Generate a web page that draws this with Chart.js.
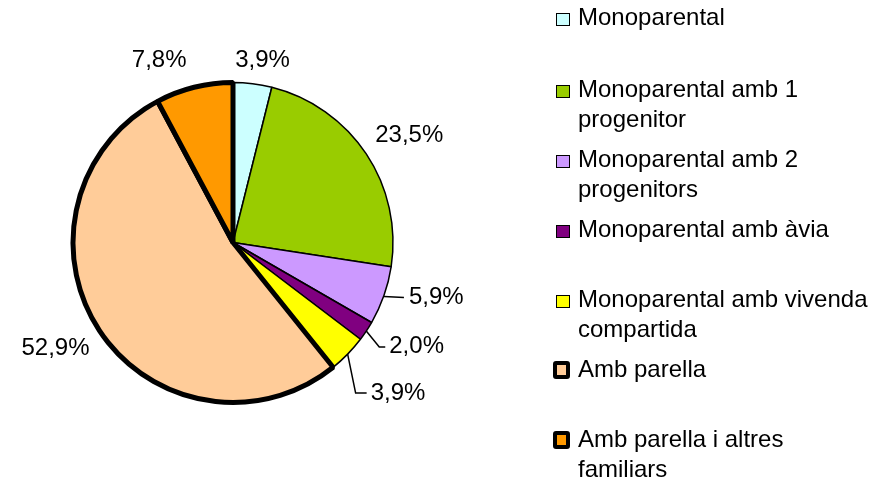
<!DOCTYPE html>
<html>
<head>
<meta charset="utf-8">
<script src="https://cdn.jsdelivr.net/npm/chart.js@4.4.1/dist/chart.umd.min.js"></script>
<style>
  html, body { margin: 0; padding: 0; background: #fff; }
  #wrap { position: relative; width: 890px; height: 482px; overflow: hidden; }
  #pie { position: absolute; left: 0; top: 0; }
  .item { position: absolute; left: 578px; font: 24px "Liberation Sans", Arial, sans-serif; line-height: 30px; color: #000; white-space: nowrap; }
  .box { position: absolute; box-sizing: border-box; }
</style>
</head>
<body>
<div id="wrap">
  <canvas id="pie" width="890" height="482"></canvas>
</div>
<script>
// DATA
const categories = [
  ["Monoparental"],
  ["Monoparental amb 1", "progenitor"],
  ["Monoparental amb 2", "progenitors"],
  ["Monoparental amb àvia"],
  ["Monoparental amb vivenda", "compartida"],
  ["Amb parella"],
  ["Amb parella i altres", "familiars"]
];
const values = [3.9, 23.5, 5.9, 2.0, 3.9, 52.9, 7.8];
const valueLabels = ["3,9%", "23,5%", "5,9%", "2,0%", "3,9%", "52,9%", "7,8%"];

// STYLE
const colors = ["#CCFFFF", "#99CC00", "#CC99FF", "#800080", "#FFFF00", "#FFCC99", "#FF9900"];
const borders = [1.5, 1.5, 1.5, 1.5, 1.5, 5, 5];
const legendTops = [2, 74, 144, 214, 284, 354, 424];

// label placement relative to the outer edge point of each slice
const labelLayout = [
  { dx: 10, dy: -23, align: "center" },
  { dx: 43, dy: -19, align: "center" },
  { dx: 25, dy: 2, align: "left", leader: [[0, 1], [20, 2]] },
  { dx: 23, dy: 15, align: "left", leader: [[0, 0], [13, 16], [19, 16]] },
  { dx: 23, dy: 39, align: "left", leader: [[0, 0], [8, 39], [19, 39]] },
  { dx: -44, dy: 18, align: "center" },
  { dx: -35, dy: -27, align: "center" }
];

// LEGEND
const wrap = document.getElementById("wrap");
categories.forEach((lines, i) => {
  const item = document.createElement("div");
  item.className = "item";
  item.style.top = legendTops[i] + "px";
  item.innerHTML = lines.join("<br>");
  wrap.appendChild(item);

  const box = document.createElement("div");
  box.className = "box";
  if (borders[i] > 2) {
    box.style.left = "553px";
    box.style.top = (legendTops[i] + 7) + "px";
    box.style.width = "17px";
    box.style.height = "18px";
    box.style.border = "4.5px solid #000";
    box.style.borderRadius = "3px";
  } else {
    box.style.left = "556px";
    box.style.top = (legendTops[i] + 10.5) + "px";
    box.style.width = "14px";
    box.style.height = "13px";
    box.style.border = "1.5px solid #000";
  }
  box.style.background = colors[i];
  wrap.appendChild(box);
});

// PIE LABELS
const pieLabels = {
  id: "pieLabels",
  afterDatasetsDraw(chart) {
    const c = chart.ctx;
    const arcs = chart.getDatasetMeta(0).data;
    c.save();
    c.font = '24px "Liberation Sans", Arial, sans-serif';
    c.fillStyle = "#000";
    c.textBaseline = "middle";
    arcs.forEach((arc, i) => {
      const p = arc.getProps(["x", "y", "startAngle", "endAngle", "outerRadius"]);
      const mid = (p.startAngle + p.endAngle) / 2;
      const ex = p.x + Math.cos(mid) * p.outerRadius;
      const ey = p.y + Math.sin(mid) * p.outerRadius;
      const l = labelLayout[i];
      if (l.leader) {
        c.beginPath();
        c.lineWidth = 1.5;
        c.strokeStyle = "#000";
        l.leader.forEach(([lx, ly], k) => {
          if (k === 0) c.moveTo(ex + lx, ey + ly);
          else c.lineTo(ex + lx, ey + ly);
        });
        c.stroke();
      }
      c.textAlign = l.align;
      c.fillText(valueLabels[i], ex + l.dx, ey + l.dy);
    });
    c.restore();
  }
};

// CHART
new Chart(document.getElementById("pie"), {
  type: "pie",
  data: {
    labels: categories.map(l => l.join(" ")),
    datasets: [{
      data: values,
      backgroundColor: colors,
      borderColor: "#000",
      borderWidth: borders
    }]
  },
  options: {
    responsive: false,
    animation: false,
    layout: { padding: { left: 70.5, top: 80, right: 494.5, bottom: 77 } },
    plugins: {
      legend: { display: false },
      tooltip: { enabled: false }
    }
  },
  plugins: [pieLabels]
});
</script>
</body>
</html>
